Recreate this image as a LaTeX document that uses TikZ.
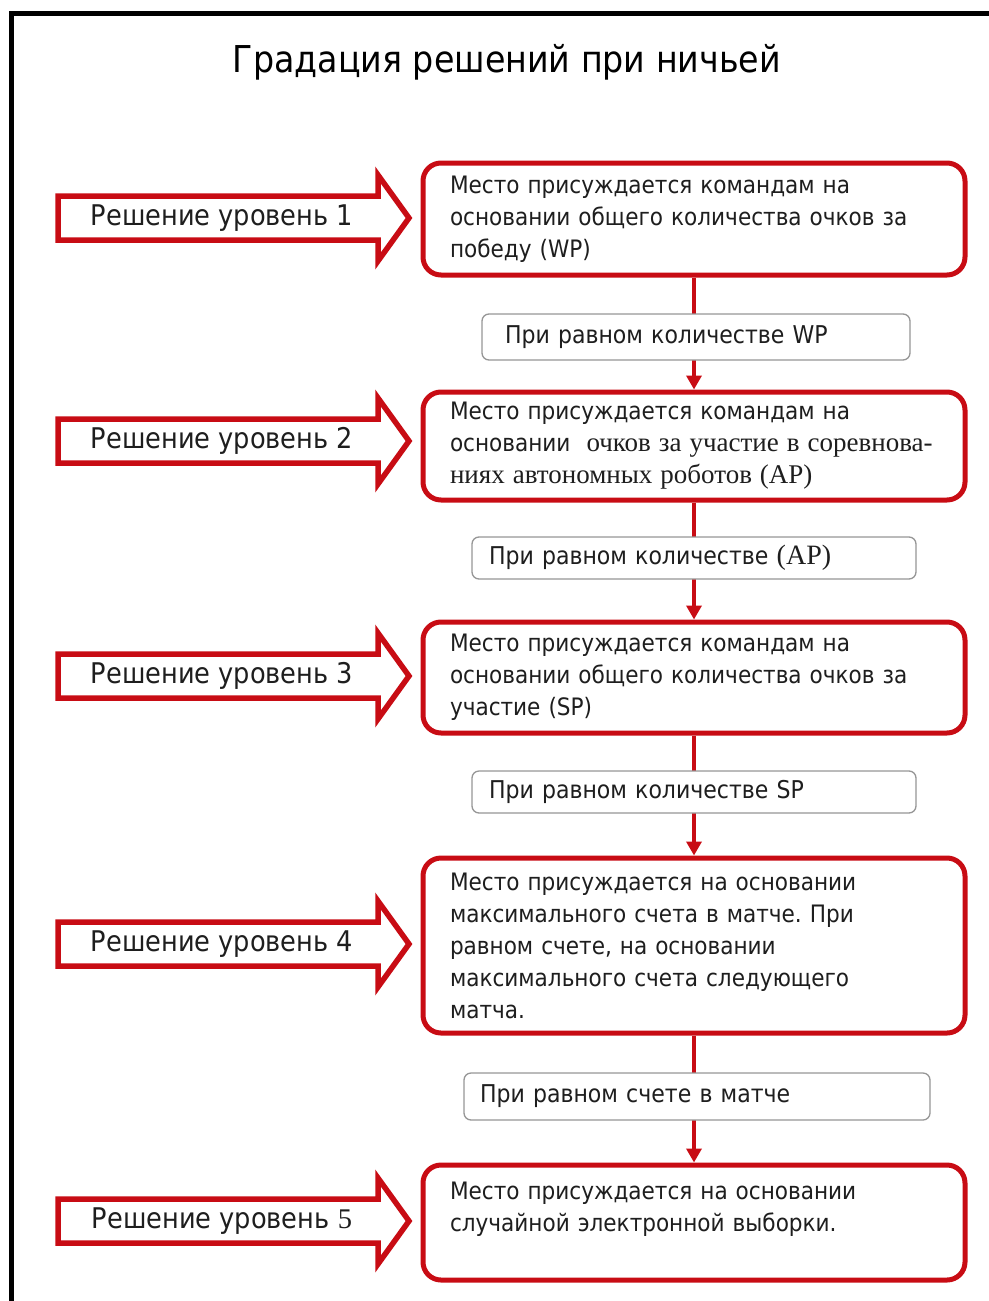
\documentclass[tikz,border=0pt]{standalone}
\usepackage{fontspec}
\setmainfont{DejaVu Sans Condensed}
\newfontfamily\serifpart{Liberation Serif}
\usetikzlibrary{arrows.meta,backgrounds}
\definecolor{boxred}{RGB}{200,12,20}
\definecolor{condgray}{RGB}{150,150,150}
\definecolor{txt}{RGB}{30,30,30}
\frenchspacing
\tikzset{
 mainbox/.style={draw=boxred, line width=5pt, rounded corners=18pt, fill=white, minimum width=542pt, text width=488pt, inner xsep=27pt, inner ysep=0pt, align=left, text=txt, font=\fontsize{24}{32}\selectfont},
 condbox/.style={draw=condgray, line width=1.3pt, rounded corners=7pt, fill=white, align=left, text=txt, inner ysep=0pt, font=\fontsize{24.5}{28}\selectfont},
 lvlshape/.style={draw=boxred, line width=5.5pt, fill=white, line join=miter},
 lvltext/.style={text=txt, font=\fontsize{28.5}{30}\selectfont},
 flow/.style={draw=boxred, line width=4.5pt, -{Triangle[length=14pt,width=15pt]}},
 framestyle/.style={draw=black, line width=5pt},
 titlestyle/.style={font=\fontsize{37}{42}\selectfont, text=black}
}
\newcommand\lvlarrow[3]{%
 \draw[lvlshape] (58,{#1-22}) -- (378,{#1-22}) -- (378,{#1-43}) -- (409,#1) -- (378,{#1+43}) -- (378,{#1+22}) -- (58,{#1+22}) -- cycle;
 \node[lvltext] (#2) at (222,#1) {#3};
}
\begin{document}
\begin{tikzpicture}[x=1pt,y=-1pt]
\useasboundingbox (0,0) rectangle (988,1301);
\draw[framestyle] (11,1320) -- (11,13) -- (1000,13);
\node[titlestyle] (title) at (507,62) {Градация решений при ничьей};

\lvlarrow{218}{l1}{Решение уровень 1}
\lvlarrow{441}{l2}{Решение уровень 2}
\lvlarrow{676}{l3}{Решение уровень 3}
\lvlarrow{944}{l4}{Решение уровень 4}
\lvlarrow{1221}{l5}{Решение уровень {\serifpart 5}}

\node[mainbox, minimum height=112pt] (b1) at (694,219) {Место присуждается командам на\\основании общего количества очков за\\победу (WP)};
\node[mainbox, minimum height=108pt] (b2) at (694,446) {Место присуждается командам на\\основании \ {\serifpart\fontsize{27}{32}\selectfont очков за участие в соревнова-}\\{\serifpart\fontsize{27}{32}\selectfont ниях автономных роботов (AP)}};
\node[mainbox, minimum height=111pt] (b3) at (694,677.5) {Место присуждается командам на\\основании общего количества очков за\\участие (SP)};
\node[mainbox, minimum height=175pt] (b4) at (694,945.5) {Место присуждается на основании\\максимального счета в матче. При\\равном счете, на основании\\максимального счета следующего\\матча.};
\node[mainbox, minimum height=115pt] (b5) at (694,1222.5) {Место присуждается на основании\\случайной электронной выборки.\\\mbox{}};

\node[condbox, minimum width=428pt, minimum height=46pt, text width=382pt, inner xsep=23pt] (c1) at (696,337) {При равном количестве WP};
\node[condbox, minimum width=444pt, minimum height=42pt, text width=410pt, inner xsep=17pt] (c2) at (694,558) {При равном количестве {\serifpart\fontsize{28}{28}\selectfont (AP)}};
\node[condbox, minimum width=444pt, minimum height=42pt, text width=410pt, inner xsep=17pt] (c3) at (694,792) {При равном количестве SP};
\node[condbox, minimum width=466pt, minimum height=47pt, text width=434pt, inner xsep=16pt] (c4) at (697,1096.5) {При равном счете в матче};

\begin{pgfonlayer}{background}
\draw[flow] (b1.south) -- (b2.north);
\draw[flow] (b2.south) -- (b3.north);
\draw[flow] (b3.south) -- (b4.north);
\draw[flow] (b4.south) -- (b5.north);
\end{pgfonlayer}
\end{tikzpicture}
\end{document}
